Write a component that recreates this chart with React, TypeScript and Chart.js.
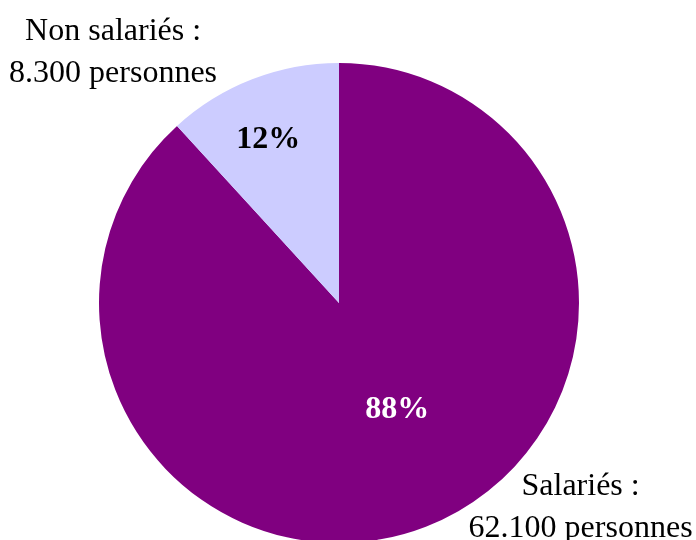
import React, { useEffect, useRef } from "react";
import { Chart, registerables } from "chart.js";

Chart.register(...registerables);

const categories = ["Salariés", "Non salariés"];
const values = [62100, 8300];
const headcountLabels = ["62.100 personnes", "8.300 personnes"];
const colors = ["#800080", "#CCCCFF"];
const percentColors = ["#FFFFFF", "#000000"];

// label layout (angle in degrees from +x axis, clockwise; radius as fraction of pie radius)
const percentLayout = [
  { angle: 61.3, r: 0.505 },
  { angle: -113.5, r: 0.74 },
];
const outsideLayout = [
  { angle: 40.2, r: 1.318 },
  { angle: -132.1, r: 1.404 },
];

const FONT = '"Liberation Serif", "Times New Roman", serif';

const labelPlugin = {
  id: "pieLabels",
  afterDatasetsDraw(chart: any) {
    const ctx = chart.ctx;
    const meta = chart.getDatasetMeta(0);
    const total = values.reduce((a, b) => a + b, 0);
    meta.data.forEach((arc: any, i: number) => {
      const { x, y, outerRadius } = arc.getProps(["x", "y", "outerRadius"], true);
      // percentage
      const pl = percentLayout[i];
      const pa = (pl.angle * Math.PI) / 180;
      const px = x + Math.cos(pa) * outerRadius * pl.r;
      const py = y + Math.sin(pa) * outerRadius * pl.r;
      ctx.save();
      ctx.font = `bold 32px ${FONT}`;
      ctx.fillStyle = percentColors[i];
      ctx.textAlign = "center";
      ctx.textBaseline = "middle";
      ctx.fillText(Math.round((values[i] / total) * 100) + "%", px, py);
      // outside label
      const ol = outsideLayout[i];
      const oa = (ol.angle * Math.PI) / 180;
      const ox = x + Math.cos(oa) * outerRadius * ol.r;
      const oy = y + Math.sin(oa) * outerRadius * ol.r;
      ctx.font = `32px ${FONT}`;
      ctx.fillStyle = "#000000";
      const lineH = 42;
      ctx.fillText(categories[i] + " :", ox, oy - lineH / 2);
      ctx.fillText(headcountLabels[i], ox, oy + lineH / 2);
      ctx.restore();
    });
  },
};

export default function App() {
  const ref = useRef<HTMLCanvasElement>(null);
  useEffect(() => {
    if (!ref.current) return;
    const chart = new Chart(ref.current, {
      type: "pie",
      data: {
        labels: categories,
        datasets: [
          {
            data: values,
            backgroundColor: colors,
            borderWidth: 0,
            radius: 240,
          } as any,
        ],
      },
      options: {
        responsive: false,
        animation: false,
        layout: { padding: { left: 0, right: 18, top: 66, bottom: 0 } },
        plugins: {
          legend: { display: false },
          tooltip: { enabled: false },
        },
      },
      plugins: [labelPlugin],
    });
    return () => chart.destroy();
  }, []);
  return (
    <div style={{ position: "fixed", left: 0, top: 0, width: 696, height: 540, background: "#fff" }}>
      <canvas ref={ref} width={696} height={540} />
    </div>
  );
}
